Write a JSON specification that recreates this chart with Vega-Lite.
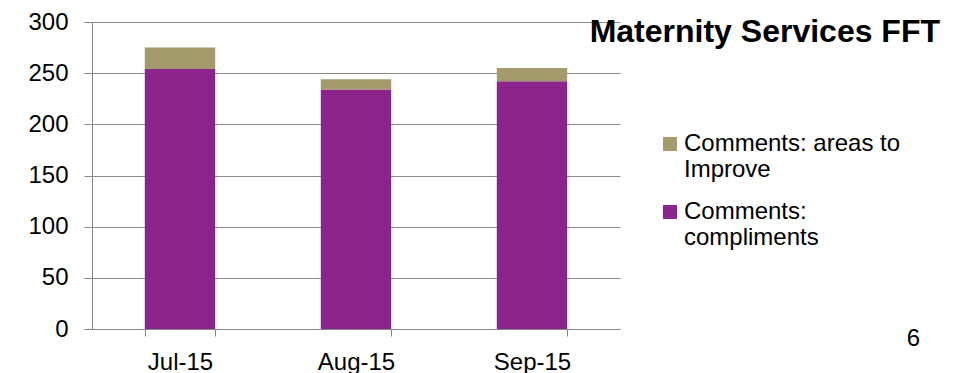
{
  "$schema": "https://vega.github.io/schema/vega-lite/v6.json",
  "width": 528,
  "height": 307,
  "autosize": {"type": "none"},
  "padding": {"left": 92, "top": 22, "right": 335, "bottom": 44},
  "background": "white",
  "config": {"view": {"stroke": null}, "font": "Liberation Sans"},
  "title": {
    "text": "Maternity Services FFT",
    "subtitle": "6\u00a0\u00a0\u00a0\u200b",
    "anchor": "end",
    "frame": "group",
    "orient": "top",
    "dx": 320,
    "offset": -342,
    "fontSize": 32,
    "fontWeight": "bold",
    "font": "Liberation Sans",
    "color": "#000000",
    "subtitleFont": "Liberation Sans",
    "subtitleFontSize": 24,
    "subtitleColor": "#000000",
    "subtitlePadding": 278
  },
  "data": {
    "values": [
      {"month": "Jul-15", "series": "Comments: compliments", "count": 254},
      {"month": "Jul-15", "series": "Comments: areas to Improve", "count": 21},
      {"month": "Aug-15", "series": "Comments: compliments", "count": 234},
      {"month": "Aug-15", "series": "Comments: areas to Improve", "count": 10},
      {"month": "Sep-15", "series": "Comments: compliments", "count": 242},
      {"month": "Sep-15", "series": "Comments: areas to Improve", "count": 13}
    ]
  },
  "mark": {"type": "bar"},
  "encoding": {
    "x": {
      "field": "month",
      "type": "ordinal",
      "sort": null,
      "scale": {"paddingInner": 0.6, "paddingOuter": 0.3},
      "axis": {
        "title": null,
        "labelAngle": 0,
        "labelFontSize": 24,
        "labelColor": "#000000",
        "labelPadding": 14,
        "tickBand": "extent",
        "tickSize": 7,
        "tickColor": "#868686",
        "domainColor": "#868686",
        "grid": false
      }
    },
    "y": {
      "field": "count",
      "type": "quantitative",
      "stack": "zero",
      "scale": {"domain": [0, 300], "nice": false},
      "axis": {
        "title": null,
        "values": [0, 50, 100, 150, 200, 250, 300],
        "labelFontSize": 24,
        "labelColor": "#000000",
        "labelPadding": 16,
        "tickSize": 8,
        "tickColor": "#868686",
        "domainColor": "#868686",
        "gridColor": "#8c8c8c",
        "grid": true
      }
    },
    "color": {
      "field": "series",
      "type": "nominal",
      "scale": {
        "domain": ["Comments: areas to Improve", "Comments: compliments"],
        "range": ["#a39b6c", "#8c258b"]
      },
      "legend": {
        "title": null,
        "orient": "none",
        "legendX": 566,
        "legendY": 110,
        "symbolType": "square",
        "symbolSize": 196,
        "symbolStrokeWidth": 0,
        "labelFontSize": 24,
        "labelColor": "#000000",
        "labelOffset": 2,
        "labelLimit": 400,
        "labelExpr": "datum.label == 'Comments: areas to Improve' ? ['Comments: areas to', 'Improve'] : ['Comments:', 'compliments']",
        "labelLineHeight": 28,
        "rowPadding": 18
      }
    },
    "order": {"field": "series", "sort": "descending"}
  }
}
